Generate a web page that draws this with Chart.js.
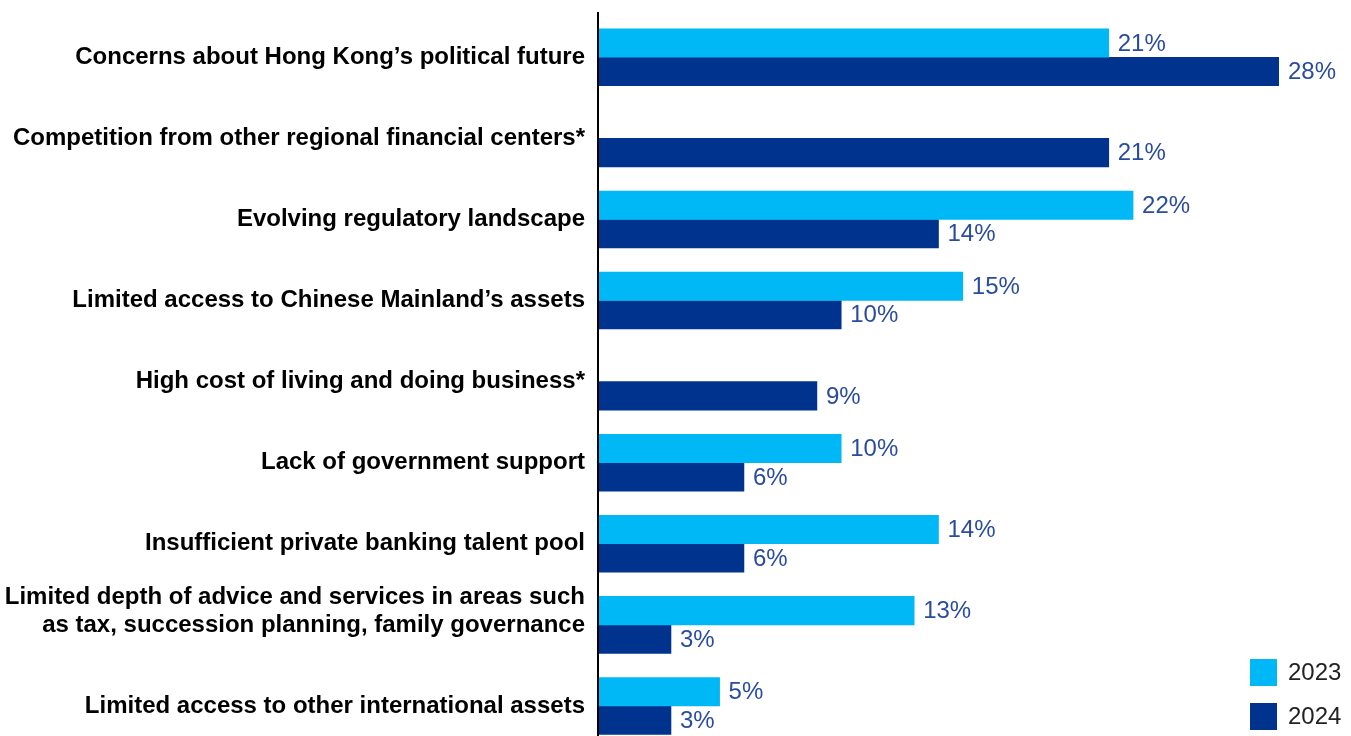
<!DOCTYPE html>
<html>
<head>
<meta charset="utf-8">
<script src="https://cdn.jsdelivr.net/npm/chart.js@4.4.1/dist/chart.umd.min.js"></script>
<style>
  html, body { margin: 0; padding: 0; background: #fff; overflow: hidden; }
  #wrap { position: relative; width: 1351px; height: 760px; }
</style>
</head>
<body>
<div id="wrap"><canvas id="chart"></canvas></div>
<script>
// Challenges named by respondents, share of answers per survey year
const categories = [
  'Concerns about Hong Kong\u2019s political future',
  'Competition from other regional financial centers*',
  'Evolving regulatory landscape',
  'Limited access to Chinese Mainland\u2019s assets',
  'High cost of living and doing business*',
  'Lack of government support',
  'Insufficient private banking talent pool',
  ['Limited depth of advice and services in areas such', 'as tax, succession planning, family governance', ''],
  'Limited access to other international assets'
];
// null = option not asked that year
const values2023 = [21, null, 22, 15, null, 10, 14, 13, 5];
const values2024 = [28, 21, 14, 10, 9, 6, 6, 3, 3];
const seriesNames = ['2023', '2024'];

const LIGHT = '#00b8f5';
const DARK = '#00338d';
const LABEL_BLUE = '#2a4c9e';
const FONT = "'Liberation Sans', Arial, sans-serif";

// value text after each bar end
const valueLabels = {
  id: 'valueLabels',
  afterDatasetsDraw(chart) {
    const ctx = chart.ctx;
    ctx.save();
    ctx.font = '24px ' + FONT;
    ctx.fillStyle = LABEL_BLUE;
    ctx.textAlign = 'left';
    ctx.textBaseline = 'middle';
    chart.data.datasets.forEach((ds, i) => {
      chart.getDatasetMeta(i).data.forEach((bar, j) => {
        const v = ds.data[j];
        if (v == null) return;
        ctx.fillText(v + '%', bar.x + 9, bar.y + 1);
      });
    });
    ctx.restore();
  }
};

// vertical axis line, a little taller than the plot area
const axisLine = {
  id: 'axisLine',
  afterDraw(chart) {
    const ctx = chart.ctx;
    const x = chart.chartArea.left;
    ctx.save();
    ctx.strokeStyle = '#000';
    ctx.lineWidth = 2;
    ctx.beginPath();
    ctx.moveTo(x, 12);
    ctx.lineTo(x, chart.chartArea.bottom);
    ctx.stroke();
    ctx.restore();
  }
};

// legend stacked in the bottom right corner
const cornerLegend = {
  id: 'cornerLegend',
  afterDraw(chart) {
    const ctx = chart.ctx;
    const colors = [LIGHT, DARK];
    ctx.save();
    ctx.font = '24px ' + FONT;
    ctx.textBaseline = 'middle';
    seriesNames.forEach((name, i) => {
      const y = 659 + i * 44;
      ctx.fillStyle = colors[i];
      ctx.fillRect(1250, y, 27, 27);
      ctx.fillStyle = '#222';
      ctx.fillText(name, 1288, y + 14);
    });
    ctx.restore();
  }
};

new Chart(document.getElementById('chart'), {
  type: 'bar',
  data: {
    labels: categories,
    datasets: [
      { label: seriesNames[0], data: values2023, backgroundColor: LIGHT, barThickness: 28.5 },
      { label: seriesNames[1], data: values2024, backgroundColor: DARK, barThickness: 28.5 }
    ]
  },
  options: {
    indexAxis: 'y',
    responsive: true,
    maintainAspectRatio: false,
    animation: false,
    layout: { padding: { top: 16.75, bottom: 13.5, left: 0, right: 72 } },
    plugins: {
      legend: { display: false },
      tooltip: { enabled: false }
    },
    scales: {
      x: {
        display: false,
        min: 0,
        max: 28
      },
      y: {
        grid: { display: false, drawTicks: false },
        border: { display: false },
        afterFit(scale) {
          // fixed label column, no extra room above/below the bars
          scale.width = 598;
          scale.paddingTop = 0;
          scale.paddingBottom = 0;
        },
        ticks: {
          autoSkip: false,
          padding: 13,
          color: '#000',
          font: { family: FONT, size: 24, weight: 'bold', lineHeight: '28px' }
        }
      }
    }
  },
  plugins: [valueLabels, axisLine, cornerLegend]
});
</script>
</body>
</html>
